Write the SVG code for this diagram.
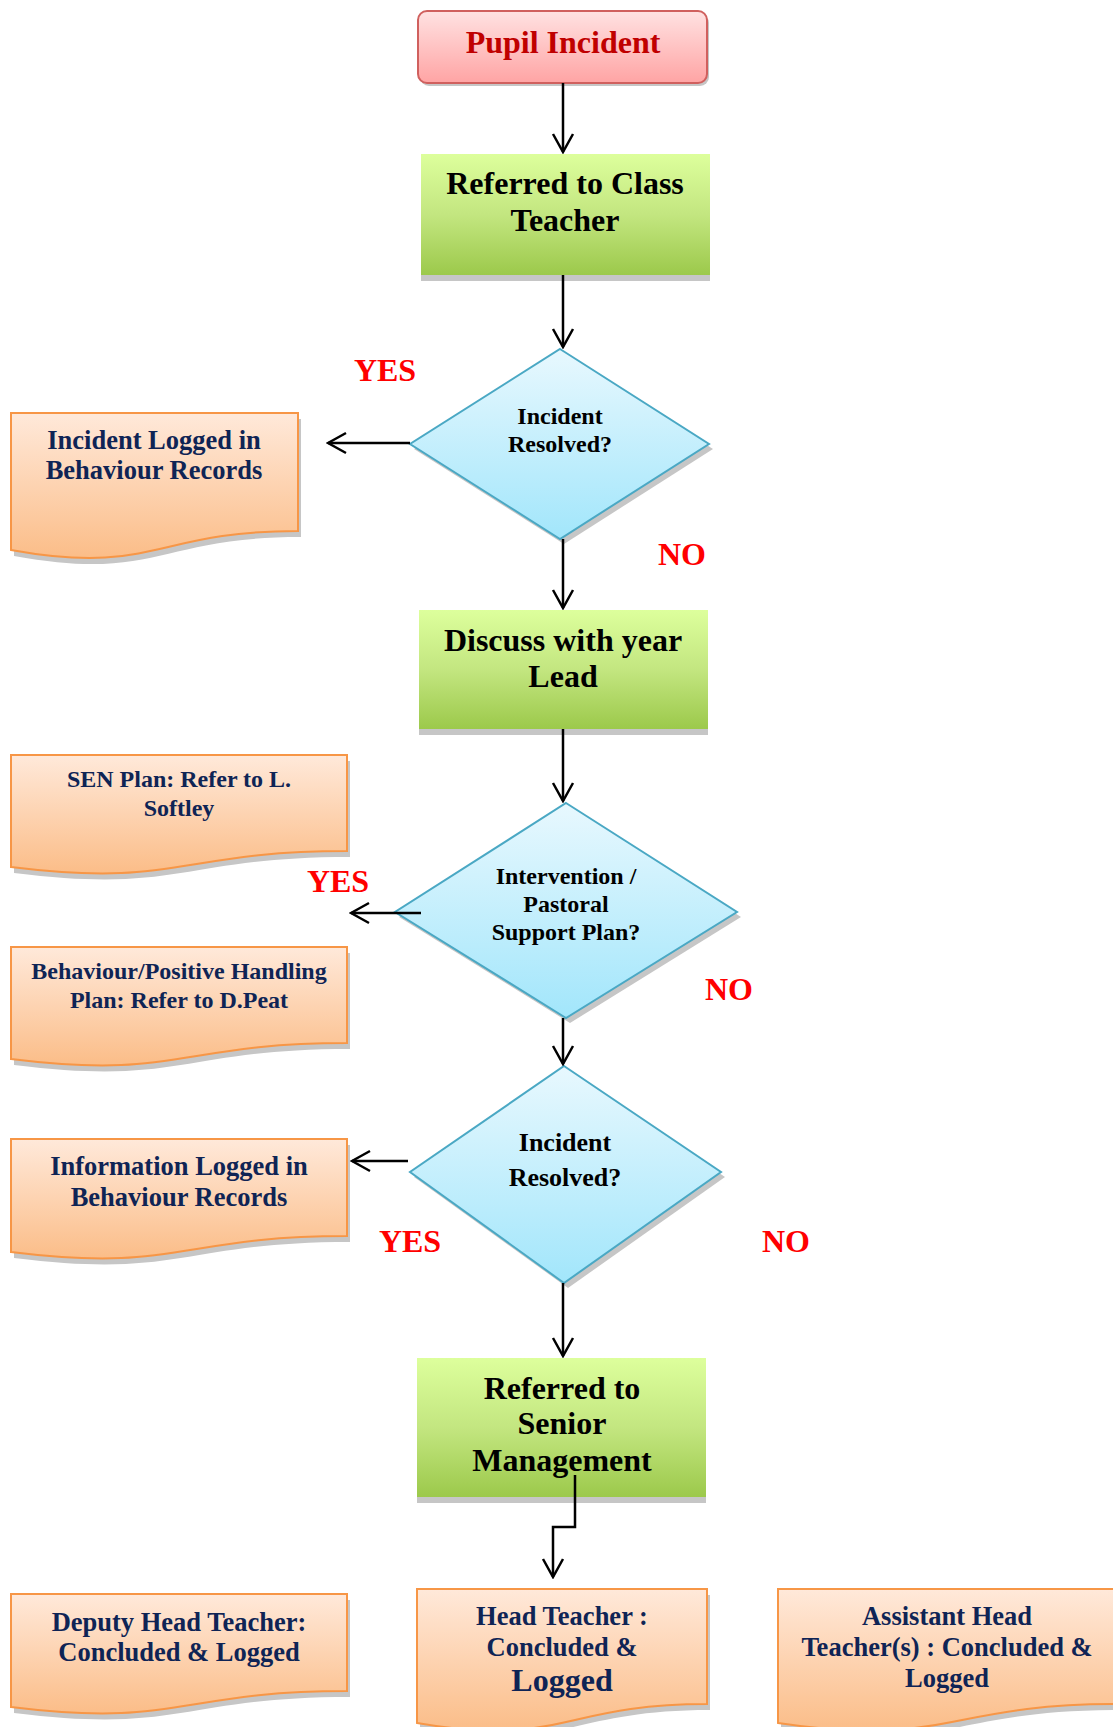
<svg xmlns="http://www.w3.org/2000/svg" width="1113" height="1727" viewBox="0 0 1113 1727">
<defs>
<linearGradient id="gRed" x1="0" y1="0" x2="0" y2="1"><stop offset="0" stop-color="#ffe2e2"/><stop offset="1" stop-color="#ffa4a4"/></linearGradient>
<linearGradient id="gGreen" x1="0" y1="0" x2="0" y2="1"><stop offset="0" stop-color="#ddff9c"/><stop offset="0.5" stop-color="#c3e680"/><stop offset="1" stop-color="#9cc94b"/></linearGradient>
<linearGradient id="gBlue" x1="0" y1="0" x2="0" y2="1"><stop offset="0" stop-color="#e8f8fe"/><stop offset="1" stop-color="#a2e6fb"/></linearGradient>
<linearGradient id="gOrange" x1="0" y1="0" x2="0" y2="1"><stop offset="0" stop-color="#ffe9da"/><stop offset="1" stop-color="#fbbd88"/></linearGradient>
<marker id="arr" markerUnits="userSpaceOnUse" viewBox="-20 -12 22 24" refX="0" refY="0" markerWidth="22" markerHeight="24" orient="auto">
<path d="M-18,-10 L0,0 L-18,10" fill="none" stroke="#000" stroke-width="2.5"/>
</marker>
</defs>
<style>
.sh{fill:#c6c6c6}
.red{fill:url(#gRed);stroke:#d0605e;stroke-width:2}
.grn{fill:url(#gGreen)}
.dia{fill:url(#gBlue);stroke:#4aa8c4;stroke-width:2}
.doc{fill:url(#gOrange);stroke:#f79646;stroke-width:2}
text{font-family:"Liberation Serif","Times New Roman",serif;font-weight:bold;text-anchor:middle}
.tk{fill:#000}
.tn{fill:#0f2455}
.yn{fill:#ff0000;font-size:32px}
.conn path{fill:none;stroke:#000;stroke-width:2.5;marker-end:url(#arr)}
</style>
<rect width="1113" height="1727" fill="#fff"/>

<g id="pupil-incident">
<rect class="sh" x="420" y="14" width="289" height="72" rx="9"/>
<rect class="red" x="418" y="11" width="289" height="72" rx="9"/>
<text x="563" y="53" font-size="32" fill="#c00000">Pupil Incident</text>
</g>

<g id="class-teacher">
<rect class="sh" x="421" y="160" width="289" height="121"/>
<rect class="grn" x="421" y="154" width="289" height="121"/>
<text class="tk" x="565" y="194" font-size="32">Referred to Class</text>
<text class="tk" x="565" y="231" font-size="32">Teacher</text>
</g>

<g id="decision-1">
<path class="sh" d="M564,354 L713,449 L564,544 L414,449 Z"/>
<path class="dia" d="M560,349 L709,444 L560,539 L410,444 Z"/>
<text class="tk" x="560" y="424" font-size="24">Incident</text>
<text class="tk" x="560" y="452" font-size="24">Resolved?</text>
</g>

<g id="incident-logged">
<path class="sh" d="M14,419 H301 V537 C157,537 157,582 14,556 Z"/>
<path class="doc" d="M11,413 H298 V531 C154,531 154,576 11,550 Z"/>
<text class="tn" x="154" y="449" font-size="26.5">Incident Logged in</text>
<text class="tn" x="154" y="479" font-size="26.5">Behaviour Records</text>
</g>

<g id="year-lead">
<rect class="sh" x="419" y="616" width="289" height="119"/>
<rect class="grn" x="419" y="610" width="289" height="119"/>
<text class="tk" x="563" y="651" font-size="32">Discuss with year</text>
<text class="tk" x="563" y="687" font-size="32">Lead</text>
</g>

<g id="decision-2">
<path class="sh" d="M570,808 L741,917 L570,1023 L399,917 Z"/>
<path class="dia" d="M566,803 L737,912 L566,1018 L395,912 Z"/>
<text class="tk" x="566" y="884" font-size="24">Intervention /</text>
<text class="tk" x="566" y="912" font-size="24">Pastoral</text>
<text class="tk" x="566" y="940" font-size="24">Support Plan?</text>
</g>

<g id="sen-plan">
<path class="sh" d="M14,761 H350 V857 C182,857 182,894 14,873 Z"/>
<path class="doc" d="M11,755 H347 V851 C179,851 179,888 11,867 Z"/>
<text class="tn" x="179" y="787" font-size="24">SEN Plan: Refer to L.</text>
<text class="tn" x="179" y="816" font-size="24">Softley</text>
</g>

<g id="behaviour-plan">
<path class="sh" d="M14,953 H350 V1049 C182,1049 182,1086 14,1065 Z"/>
<path class="doc" d="M11,947 H347 V1043 C179,1043 179,1080 11,1059 Z"/>
<text class="tn" x="179" y="979" font-size="24">Behaviour/Positive Handling</text>
<text class="tn" x="179" y="1008" font-size="24">Plan: Refer to D.Peat</text>
</g>

<g id="decision-3">
<path class="sh" d="M568,1071 L725,1177 L568,1288 L414,1177 Z"/>
<path class="dia" d="M564,1066 L721,1172 L564,1283 L410,1172 Z"/>
<text class="tk" x="565" y="1151" font-size="26">Incident</text>
<text class="tk" x="565" y="1186" font-size="26">Resolved?</text>
</g>

<g id="information-logged">
<path class="sh" d="M14,1145 H350 V1242 C182,1242 182,1279 14,1258 Z"/>
<path class="doc" d="M11,1139 H347 V1236 C179,1236 179,1273 11,1252 Z"/>
<text class="tn" x="179" y="1175" font-size="26.5">Information Logged in</text>
<text class="tn" x="179" y="1206" font-size="26.5">Behaviour Records</text>
</g>

<g id="senior-management">
<rect class="sh" x="417" y="1364" width="289" height="139"/>
<rect class="grn" x="417" y="1358" width="289" height="139"/>
<text class="tk" x="562" y="1399" font-size="32">Referred to</text>
<text class="tk" x="562" y="1434" font-size="32">Senior</text>
<text class="tk" x="562" y="1471" font-size="32">Management</text>
</g>

<g id="deputy-head">
<path class="sh" d="M14,1600 H350 V1697 C182,1697 182,1734 14,1713 Z"/>
<path class="doc" d="M11,1594 H347 V1691 C179,1691 179,1728 11,1707 Z"/>
<text class="tn" x="179" y="1631" font-size="26.5">Deputy Head Teacher:</text>
<text class="tn" x="179" y="1661" font-size="26.5">Concluded &amp; Logged</text>
</g>

<g id="head-teacher">
<path class="sh" d="M420,1595 H710 V1710 C565,1710 565,1754 420,1729 Z"/>
<path class="doc" d="M417,1589 H707 V1704 C562,1704 562,1748 417,1723 Z"/>
<text class="tn" x="562" y="1625" font-size="26.5">Head Teacher :</text>
<text class="tn" x="562" y="1656" font-size="26.5">Concluded &amp;</text>
<text class="tn" x="562" y="1691" font-size="32">Logged</text>
</g>

<g id="assistant-head">
<path class="sh" d="M781,1595 H1119 V1710 C950,1710 950,1754 781,1729 Z"/>
<path class="doc" d="M778,1589 H1116 V1704 C947,1704 947,1748 778,1723 Z"/>
<text class="tn" x="947" y="1625" font-size="26.5">Assistant Head</text>
<text class="tn" x="947" y="1656" font-size="26.5">Teacher(s) : Concluded &amp;</text>
<text class="tn" x="947" y="1687" font-size="26.5">Logged</text>
</g>

<g id="connectors" class="conn">
<path d="M563,83 V152"/>
<path d="M563,275 V347"/>
<path d="M563,539 V608"/>
<path d="M563,729 V801"/>
<path d="M563,1018 V1064"/>
<path d="M563,1283 V1356"/>
<path d="M575,1475 V1527 H553 V1577"/>
<path d="M410,443 H328"/>
<path d="M421,913 H351"/>
<path d="M408,1161 H352"/>
</g>

<g id="labels">
<text class="yn" x="385" y="381">YES</text>
<text class="yn" x="682" y="565">NO</text>
<text class="yn" x="338" y="892">YES</text>
<text class="yn" x="729" y="1000">NO</text>
<text class="yn" x="410" y="1252">YES</text>
<text class="yn" x="786" y="1252">NO</text>
</g>
</svg>
